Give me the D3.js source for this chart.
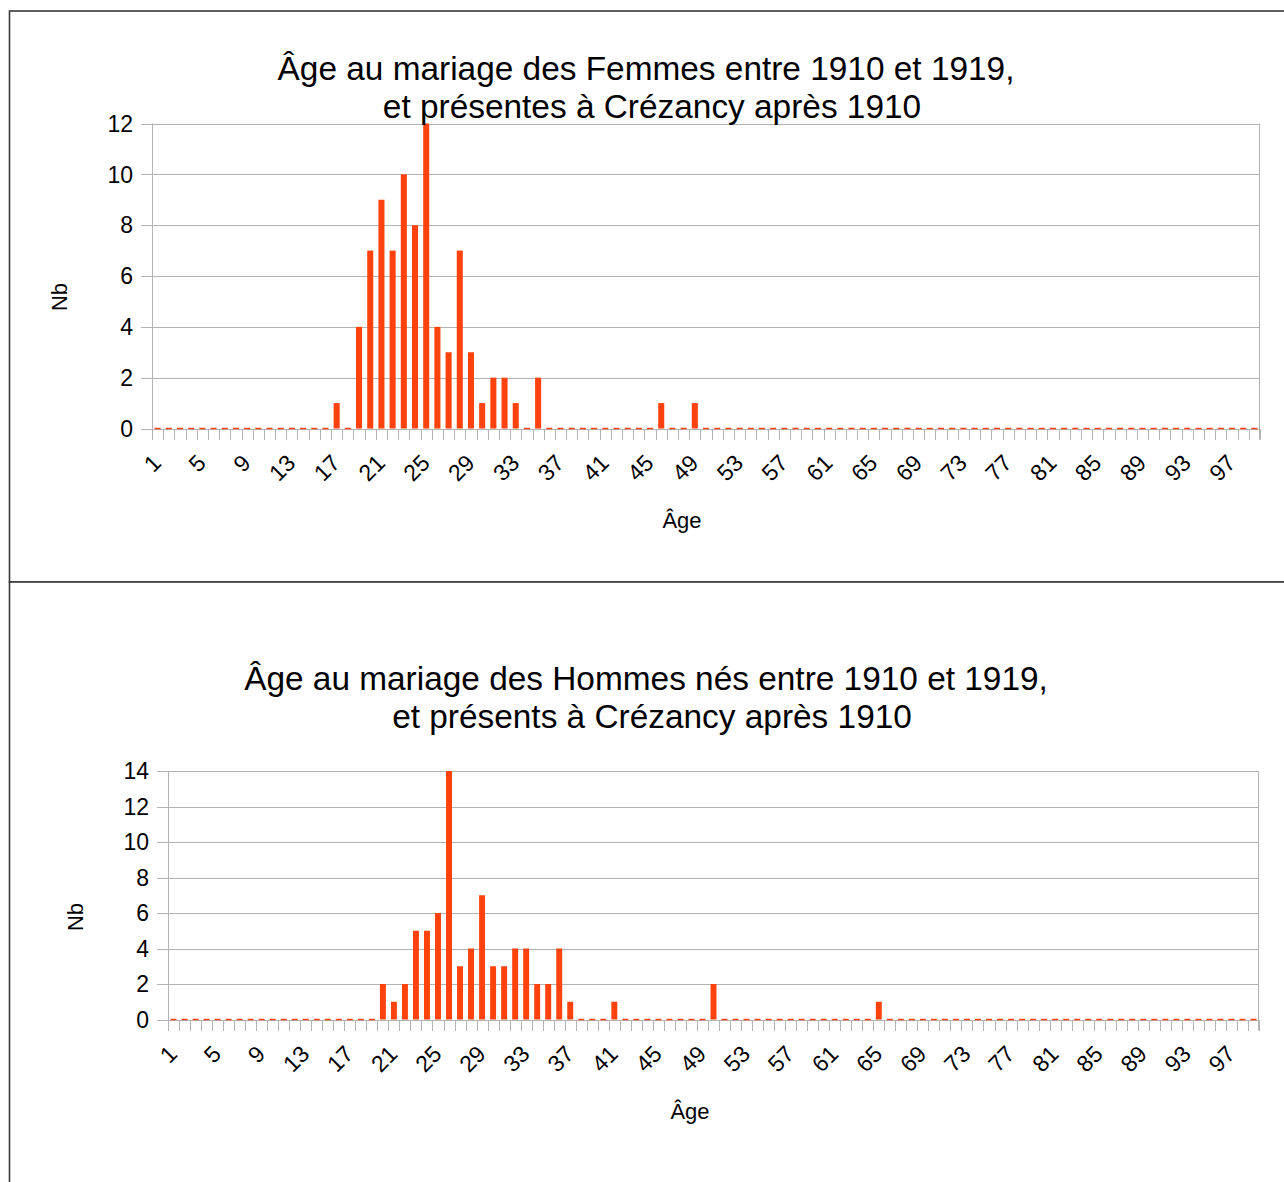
<!DOCTYPE html>
<html>
<head>
<meta charset="utf-8">
<script src="https://cdn.jsdelivr.net/npm/d3@7"></script>
<style>
  html, body { margin: 0; padding: 0; background: #fff; }
  svg { display: block; }
  text { font-family: "Liberation Sans", Arial, sans-serif; fill: #000; }
</style>
</head>
<body>
<svg id="page" width="1284" height="1182"></svg>
<script>
// Ages (categories)
const ages = [
   1,  2,  3,  4,  5,  6,  7,  8,  9, 10,
  11, 12, 13, 14, 15, 16, 17, 18, 19, 20,
  21, 22, 23, 24, 25, 26, 27, 28, 29, 30,
  31, 32, 33, 34, 35, 36, 37, 38, 39, 40,
  41, 42, 43, 44, 45, 46, 47, 48, 49, 50,
  51, 52, 53, 54, 55, 56, 57, 58, 59, 60,
  61, 62, 63, 64, 65, 66, 67, 68, 69, 70,
  71, 72, 73, 74, 75, 76, 77, 78, 79, 80,
  81, 82, 83, 84, 85, 86, 87, 88, 89, 90,
  91, 92, 93, 94, 95, 96, 97, 98, 99
];

// Number of marriages per age — women
const femmes = [
  0, 0, 0, 0, 0, 0, 0, 0, 0, 0,
  0, 0, 0, 0, 0, 0, 1, 0, 4, 7,
  9, 7, 10, 8, 12, 4, 3, 7, 3, 1,
  2, 2, 1, 0, 2, 0, 0, 0, 0, 0,
  0, 0, 0, 0, 0, 1, 0, 0, 1, 0,
  0, 0, 0, 0, 0, 0, 0, 0, 0, 0,
  0, 0, 0, 0, 0, 0, 0, 0, 0, 0,
  0, 0, 0, 0, 0, 0, 0, 0, 0, 0,
  0, 0, 0, 0, 0, 0, 0, 0, 0, 0,
  0, 0, 0, 0, 0, 0, 0, 0, 0
];

// Number of marriages per age — men
const hommes = [
  0, 0, 0, 0, 0, 0, 0, 0, 0, 0,
  0, 0, 0, 0, 0, 0, 0, 0, 0, 2,
  1, 2, 5, 5, 6, 14, 3, 4, 7, 3,
  3, 4, 4, 2, 2, 4, 1, 0, 0, 0,
  1, 0, 0, 0, 0, 0, 0, 0, 0, 2,
  0, 0, 0, 0, 0, 0, 0, 0, 0, 0,
  0, 0, 0, 0, 1, 0, 0, 0, 0, 0,
  0, 0, 0, 0, 0, 0, 0, 0, 0, 0,
  0, 0, 0, 0, 0, 0, 0, 0, 0, 0,
  0, 0, 0, 0, 0, 0, 0, 0, 0
];

// Labelled ages on the category axis
const xTickLabels = [1, 5, 9, 13, 17, 21, 25, 29, 33, 37, 41, 45, 49, 53, 57, 61, 65, 69, 73, 77, 81, 85, 89, 93, 97];

const yTicksFemmes = [0, 2, 4, 6, 8, 10, 12];
const yTicksHommes = [0, 2, 4, 6, 8, 10, 12, 14];

const titleFemmes = ["Âge au mariage des Femmes entre 1910 et 1919,", "et présentes à Crézancy après 1910"];
const titleHommes = ["Âge au mariage des Hommes nés entre 1910 et 1919,", "et présents à Crézancy après 1910"];

const BAR = "#ff420e";
const GRID = "#b3b3b3";
const FRAME = "#3a3a3a";

const svg = d3.select("#page");

// Object frames around each chart
svg.append("rect").attr("x", 9.5).attr("y", 11).attr("width", 1400).attr("height", 571)
  .attr("fill", "#fff").attr("stroke", FRAME).attr("stroke-width", 1.6);
svg.append("rect").attr("x", 9.5).attr("y", 582).attr("width", 1400).attr("height", 700)
  .attr("fill", "#fff").attr("stroke", FRAME).attr("stroke-width", 1.6);

function drawChart(cfg) {
  const { values, yTicks, title, plot, titleY, titleX, xTitleY, xTitleX, yTitleX, yTitleY } = cfg;
  const g = svg.append("g");

  const x = d3.scaleBand()
    .domain(ages)
    .range([plot.left, plot.right])
    .paddingInner(0.46)
    .paddingOuter(0.23);
  const step = x.step();
  const slot = a => plot.left + (ages.indexOf(a)) * step;

  const y = d3.scaleLinear()
    .domain([0, d3.max(yTicks)])
    .range([plot.bottom, plot.top]);

  // Horizontal gridlines with their outward ticks
  g.append("g").selectAll("line").data(yTicks).join("line")
    .attr("x1", plot.left - 11).attr("x2", plot.right)
    .attr("y1", d => Math.round(y(d)) + 0.5).attr("y2", d => Math.round(y(d)) + 0.5)
    .attr("stroke", GRID).attr("stroke-width", 1);

  // Y axis and right frame edge
  g.append("line")
    .attr("x1", Math.round(plot.left) + 0.5).attr("x2", Math.round(plot.left) + 0.5)
    .attr("y1", plot.top).attr("y2", plot.bottom + 11)
    .attr("stroke", GRID);
  g.append("line")
    .attr("x1", Math.round(plot.right) - 0.5).attr("x2", Math.round(plot.right) - 0.5)
    .attr("y1", plot.top).attr("y2", plot.bottom + 11)
    .attr("stroke", GRID);

  // Category boundary ticks
  const bounds = ages.map(slot).concat([plot.right]);
  g.append("g").selectAll("line").data(bounds).join("line")
    .attr("x1", d => Math.round(d) + 0.5).attr("x2", d => Math.round(d) + 0.5)
    .attr("y1", Math.round(y(0))).attr("y2", Math.round(y(0)) + 11)
    .attr("stroke", GRID);

  // Y tick labels
  g.append("g").selectAll("text").data(yTicks).join("text")
    .attr("x", plot.left - 19)
    .attr("y", d => y(d))
    .attr("dy", "0.36em")
    .attr("text-anchor", "end")
    .attr("font-size", 23)
    .text(d => d);

  // Bars
  const data = ages.map((a, i) => ({ age: a, v: values[i] }));
  g.append("g").selectAll("rect").data(data.filter(d => d.v > 0)).join("rect")
    .attr("x", d => x(d.age))
    .attr("y", d => y(d.v))
    .attr("width", x.bandwidth())
    .attr("height", d => y(0) - y(d.v))
    .attr("fill", BAR);
  // Empty categories show as a flat stroke on the baseline
  g.append("g").selectAll("line").data(data.filter(d => d.v === 0)).join("line")
    .attr("x1", d => x(d.age)).attr("x2", d => x(d.age) + x.bandwidth())
    .attr("y1", y(0)).attr("y2", y(0))
    .attr("stroke", BAR).attr("stroke-width", 1.5);

  // Rotated age labels
  g.append("g").selectAll("text").data(xTickLabels).join("text")
    .attr("text-anchor", "end")
    .attr("font-size", 23)
    .attr("transform", d => `translate(${x(d) + x.bandwidth() / 2 + 5},${y(0) + 36}) rotate(-45)`)
    .text(d => d);

  // Two-line title, each line centred on its own axis
  g.append("text")
    .attr("y", titleY)
    .attr("text-anchor", "middle")
    .attr("font-size", 33.4)
    .selectAll("tspan").data(title).join("tspan")
    .attr("x", (d, i) => titleX[i])
    .attr("dy", (d, i) => i === 0 ? 0 : 38)
    .text(d => d);

  // Axis titles
  g.append("text")
    .attr("x", xTitleX).attr("y", xTitleY)
    .attr("text-anchor", "middle")
    .attr("font-size", 22)
    .text("Âge");
  g.append("text")
    .attr("transform", `translate(${yTitleX},${yTitleY}) rotate(-90)`)
    .attr("text-anchor", "middle")
    .attr("font-size", 22)
    .text("Nb");
}

drawChart({
  values: femmes,
  yTicks: yTicksFemmes,
  title: titleFemmes,
  plot: { left: 152, right: 1260, top: 123.5, bottom: 428.5 },
  titleX: [646, 652], titleY: 80,
  xTitleX: 682, xTitleY: 528,
  yTitleX: 67, yTitleY: 297
});

drawChart({
  values: hommes,
  yTicks: yTicksHommes,
  title: titleHommes,
  plot: { left: 168, right: 1259, top: 771, bottom: 1019.5 },
  titleX: [646, 652], titleY: 690,
  xTitleX: 690, xTitleY: 1119,
  yTitleX: 83, yTitleY: 917
});
</script>
</body>
</html>
